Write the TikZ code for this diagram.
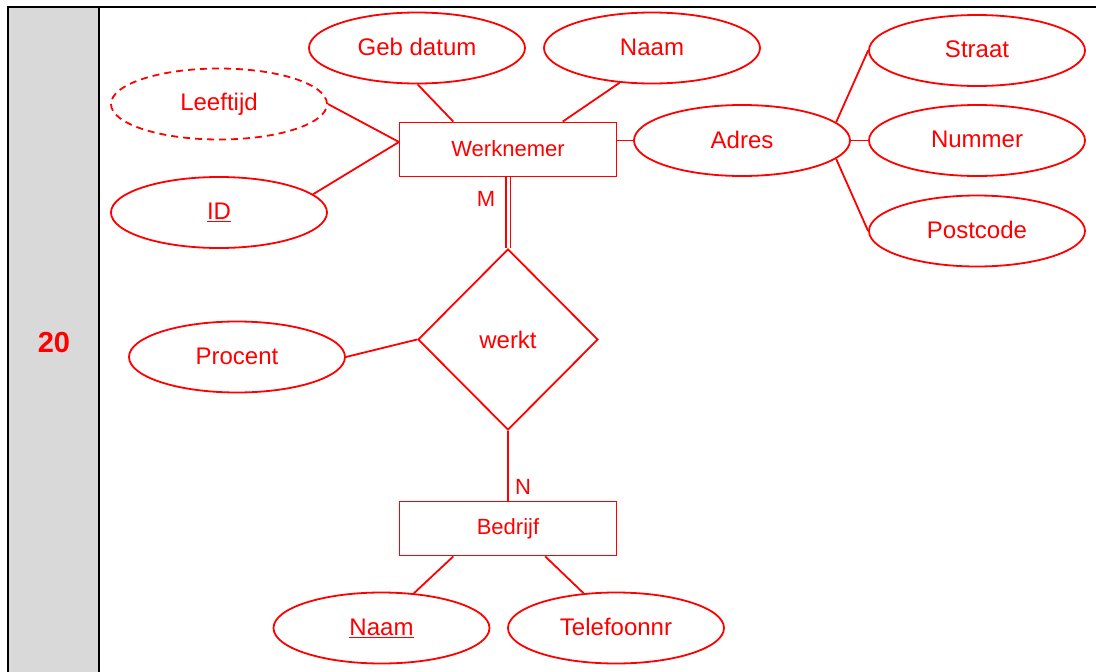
\documentclass[tikz,border=0pt]{standalone}
\usepackage{fontspec}
\setmainfont{Liberation Sans}
\usetikzlibrary{shapes.geometric,calc}
\definecolor{ered}{RGB}{255,0,0}
\definecolor{cellgrey}{RGB}{217,217,217}
\tikzset{
  attr/.style={ellipse,draw=ered,line width=1.8pt,minimum width=216pt,minimum height=71pt,inner sep=0pt,text=ered,font=\fontsize{24}{28}\selectfont},
  dattr/.style={attr,dashed,dash pattern=on 7pt off 5pt},
  entity/.style={rectangle,draw=ered,line width=1.8pt,minimum width=217pt,minimum height=54pt,inner sep=0pt,text=ered,font=\fontsize{22}{26}\selectfont},
  rel/.style={diamond,draw=ered,line width=1.8pt,minimum width=180pt,minimum height=181pt,inner sep=0pt,text=ered,font=\fontsize{24}{28}\selectfont},
  conn/.style={draw=ered,line width=1.8pt},
  card/.style={text=ered,inner sep=0pt,font=\fontsize{22}{26}\selectfont},
  tbl/.style={draw=black,line width=1.8pt}
}
\begin{document}
\begin{tikzpicture}[x=1pt,y=-1pt]
\useasboundingbox (0,0) rectangle (1096,672);
% table cell
\fill[cellgrey] (8,7) rectangle (99,672);
\draw[tbl] (8,675) -- (8,7) -- (1096,7);
\draw[tbl] (99,7) -- (99,675);
\node[text=ered,inner sep=0pt,font=\fontsize{29}{33}\selectfont\bfseries] (num) at (54,343) {20};
% entities
\node[entity] (wn) at (508,149.5) {\raisebox{1.5pt}{Werknemer}};
\node[entity] (bed) at (508,528.5) {\raisebox{2pt}{Bedrijf}};
\node[rel] (werkt) at (508,339.5) {\raisebox{-3pt}{werkt}};
% attributes
\node[attr] (geb) at (417,48) {\raisebox{1.5pt}{Geb datum}};
\node[attr] (naam1) at (652,48) {\raisebox{1.5pt}{Naam}};
\node[dattr] (leef) at (219,104) {\raisebox{1.5pt}{Leeftijd}};
\node[attr] (id) at (219,212.5) {\underline{ID}};
\node[attr] (adres) at (742,140.5) {\raisebox{2pt}{Adres}};
\node[attr] (straat) at (977,50.5) {\raisebox{2pt}{Straat}};
\node[attr] (nummer) at (977,140.5) {\raisebox{2pt}{Nummer}};
\node[attr] (postcode) at (977,231) {\raisebox{2pt}{Postcode}};
\node[attr] (procent) at (237,357) {\raisebox{2pt}{Procent}};
\node[attr] (naam2) at (381.5,628) {\underline{Naam}};
\node[attr] (tel) at (616,628) {\raisebox{1.5pt}{Telefoonnr}};
% cardinalities
\node[card] (m) at (486,198.5) {M};
\node[card] (n) at (523,487) {N};
% helper coordinates
\coordinate (wnL) at (399,142);
\coordinate (wnT1) at ($(wn.north west)!0.25!(wn.north east)$);
\coordinate (wnT2) at ($(wn.north west)!0.75!(wn.north east)$);
\coordinate (bedB1) at ($(bed.south west)!0.25!(bed.south east)$);
\coordinate (bedB2) at ($(bed.south west)!0.67!(bed.south east)$);
% connectors
\draw[conn] (geb.-89) -- (wnT1);
\draw[conn] (naam1.-133) -- (wnT2);
\draw[conn] (leef.east) -- (wnL);
\draw[conn] (id.11.5) -- (wnL);
\draw[conn] (adres.west) -- (adres.west -| wn.east);
\draw[conn] (adres.11.5) -- (straat.west);
\draw[conn] (adres.east) -- (nummer.west);
\draw[conn] (adres.-11.5) -- (postcode.west);
\draw[draw=ered,line width=1.3pt,double=white,double distance=3pt] (wn.south) -- (werkt.north);
\draw[conn] (procent.east) -- (werkt.west);
\draw[conn] (werkt.south) -- (bed.north);
\draw[conn] (bedB1) -- (naam2.47);
\draw[conn] (bedB2) -- (tel.133);
\end{tikzpicture}
\end{document}
